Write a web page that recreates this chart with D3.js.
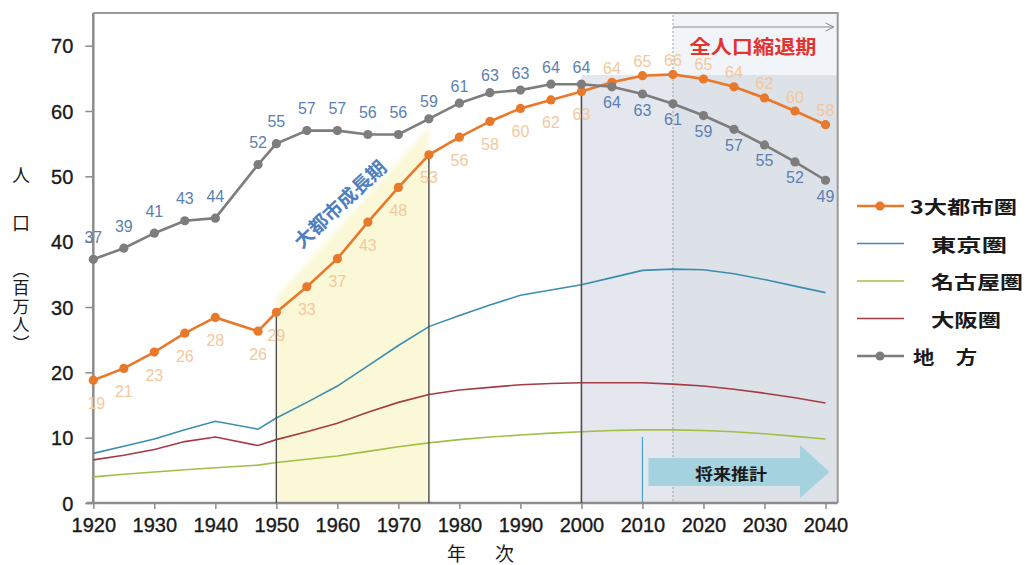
<!DOCTYPE html>
<html>
<head>
<meta charset="utf-8">
<script src="https://cdn.jsdelivr.net/npm/d3@7"></script>
<style>
  html, body { margin: 0; padding: 0; background: #fff; }
  svg { display: block; }
  .tick-label { font-family: "Liberation Sans", Arial, sans-serif; font-size: 20px; fill: #1a1a1a; stroke: #1a1a1a; stroke-width: 0.35px; }
  .jp { font-family: "Noto Sans CJK JP", "Noto Sans", sans-serif; }
  .vert { writing-mode: vertical-rl; }
  .val { font-family: "Liberation Sans", Arial, sans-serif; font-size: 16px; }
</style>
</head>
<body>
<svg id="chart" width="1026" height="565"></svg>
<script>
// Population by region, millions
const years = [1920, 1925, 1930, 1935, 1940, 1947, 1950, 1955, 1960, 1965, 1970, 1975, 1980,
               1985, 1990, 1995, 2000, 2005, 2010, 2015, 2020, 2025, 2030, 2035, 2040];
const metro3 = [18.8, 20.6, 23.1, 26.0, 28.4, 26.3, 29.2, 33.1, 37.4, 43.0, 48.3, 53.3, 56.0,
                58.4, 60.4, 61.7, 63.0, 64.4, 65.4, 65.6, 64.9, 63.7, 62.0, 60.0, 57.9];
const tokyo = [7.6, 8.7, 9.8, 11.2, 12.5, 11.3, 13.0, 15.4, 17.9, 21.0, 24.1, 27.0, 28.7,
               30.3, 31.8, 32.6, 33.4, 34.5, 35.6, 35.8, 35.7, 35.1, 34.2, 33.2, 32.2];
const nagoya = [4.0, 4.4, 4.75, 5.1, 5.4, 5.8, 6.2, 6.7, 7.2, 7.9, 8.6, 9.2, 9.7,
                10.1, 10.4, 10.7, 10.9, 11.1, 11.2, 11.2, 11.1, 10.9, 10.6, 10.2, 9.8];
const osaka = [6.6, 7.3, 8.2, 9.4, 10.1, 8.8, 9.7, 10.9, 12.2, 13.9, 15.4, 16.6, 17.3,
               17.7, 18.1, 18.3, 18.4, 18.4, 18.4, 18.2, 17.9, 17.4, 16.8, 16.1, 15.3];
const regional = [37.3, 39.0, 41.3, 43.2, 43.6, 51.8, 55.0, 57.0, 57.0, 56.4, 56.4, 58.8, 61.2,
                  62.8, 63.2, 64.1, 64.1, 63.7, 62.6, 61.1, 59.3, 57.2, 54.8, 52.2, 49.4];

const xTicks = [1920, 1930, 1940, 1950, 1960, 1970, 1980, 1990, 2000, 2010, 2020, 2030, 2040];
const yTicks = [0, 10, 20, 30, 40, 50, 60, 70];

const legendNames = ["3大都市圏", "東京圏", "名古屋圏", "大阪圏", "地\u3000方"];

// Period markers
const growthStart = 1950, growthEnd = 1975;
const baseYear = 2000, projectionYear = 2010, peakYear = 2015;
const growthBand = [31.5, 57.5];   // top edge of the growth band at its two ends
const shadeTop = 65.5;

const svg = d3.select("#chart");
const x = d3.scaleLinear().domain([1920, 2042]).range([93.3, 837.7]);
const y = d3.scaleLinear().domain([0, 75]).range([503, 13]);
const X0 = x.range()[0], X1 = x.range()[1], Y0 = y.range()[0], Y1 = y.range()[1];

const defs = svg.append("defs");
defs.append("filter").attr("id", "soft").attr("x", "-20%").attr("y", "-20%").attr("width", "140%").attr("height", "140%")
  .append("feGaussianBlur").attr("stdDeviation", 2.5);
defs.append("marker").attr("id", "openhead").attr("viewBox", "0 0 10 10").attr("refX", 9).attr("refY", 5)
  .attr("markerWidth", 10).attr("markerHeight", 10).attr("markerUnits", "userSpaceOnUse").attr("orient", "auto")
  .append("path").attr("d", "M1,1 L9,5 L1,9").attr("fill", "none").attr("stroke", "#8a8a8a").attr("stroke-width", 1);

// Shrinking-population period backgrounds
svg.append("rect").attr("x", x(peakYear)).attr("y", Y1).attr("width", X1 - x(peakYear)).attr("height", y(shadeTop) - Y1)
  .attr("fill", "#f1f4f8");
svg.append("rect").attr("x", x(baseYear)).attr("y", y(shadeTop)).attr("width", x(peakYear) - x(baseYear)).attr("height", Y0 - y(shadeTop))
  .attr("fill", "#e4e7ed");
svg.append("rect").attr("x", x(peakYear)).attr("y", y(shadeTop)).attr("width", X1 - x(peakYear)).attr("height", Y0 - y(shadeTop))
  .attr("fill", "#dde1e8");

// Metropolitan growth band
svg.append("path")
  .attr("d", d3.line()([[x(growthStart), Y0], [x(growthStart), y(growthBand[0])], [x(growthEnd), y(growthBand[1])], [x(growthEnd), Y0]]) + "Z")
  .attr("fill", "#fbf8d8").attr("filter", "url(#soft)");

// Peak marker and arrow
svg.append("line").attr("x1", x(peakYear)).attr("x2", x(peakYear)).attr("y1", Y1 + 2).attr("y2", Y0)
  .attr("stroke", "#a0a4aa").attr("stroke-width", 1).attr("stroke-dasharray", "2,2");
svg.append("line").attr("x1", x(peakYear)).attr("x2", X1 - 4).attr("y1", 27).attr("y2", 27)
  .attr("stroke", "#8a8a8a").attr("stroke-width", 1).attr("marker-end", "url(#openhead)");
svg.append("text").attr("class", "jp").attr("x", 753).attr("y", 45).attr("text-anchor", "middle").attr("dominant-baseline", "central")
  .attr("font-size", 19).attr("font-weight", 700).attr("fill", "#e2332c")
  .attr("textLength", 127).attr("lengthAdjust", "spacingAndGlyphs").text("全人口縮退期");

// Projection arrow
const arrowY = 472;
svg.append("path")
  .attr("d", `M${x(projectionYear) + 6},${arrowY - 14} L800,${arrowY - 14} L800,${arrowY - 27} L${x(2040) + 4},${arrowY} L800,${arrowY + 26} L800,${arrowY + 14} L${x(projectionYear) + 6},${arrowY + 14} Z`)
  .attr("fill", "#a5d2df");
svg.append("text").attr("class", "jp").attr("x", 731).attr("y", arrowY + 1).attr("text-anchor", "middle").attr("dominant-baseline", "central")
  .attr("font-size", 16).attr("font-weight", 700).attr("fill", "#1a1a1a")
  .attr("textLength", 72).attr("lengthAdjust", "spacingAndGlyphs").text("将来推計");
svg.append("line").attr("x1", x(projectionYear)).attr("x2", x(projectionYear)).attr("y1", 437).attr("y2", Y0)
  .attr("stroke", "#4aa3cf").attr("stroke-width", 1.2);

// Frame and axes
svg.append("path").attr("d", `M${X0},${Y1} L${X1},${Y1} L${X1},${Y0}`).attr("fill", "none").attr("stroke", "#9a9a9a").attr("stroke-width", 2);

const yAxis = svg.append("g").attr("transform", `translate(${X0},0)`)
  .call(d3.axisLeft(y).tickValues(yTicks).tickSize(8).tickPadding(12));
const xAxis = svg.append("g").attr("transform", `translate(0,${Y0})`)
  .call(d3.axisBottom(x).tickValues(xTicks).tickFormat(d3.format("d")).tickSize(6).tickPadding(4));
[yAxis, xAxis].forEach(g => {
  g.select(".domain").attr("stroke", "#8c8c8c").attr("stroke-width", 2.5);
  g.selectAll(".tick line").attr("stroke", "#8c8c8c").attr("stroke-width", 1.5);
  g.selectAll(".tick text").attr("class", "tick-label").attr("font-size", null).attr("font-family", null).attr("fill", null);
});
yAxis.selectAll(".tick text").attr("dy", "0.36em");
xAxis.selectAll(".tick text").attr("dy", "0.95em");
yAxis.select(".domain").attr("d", `M0,${Y0}V${Y1}`);
xAxis.select(".domain").attr("d", `M${X0 - 7},0H${X1}`);

// Axis titles: vertical Japanese writing
svg.append("text").attr("class", "jp vert").attr("x", 21).attr("y", 166)
  .attr("font-size", 18).attr("letter-spacing", 6).attr("fill", "#1a1a1a").text("人\u3000口");
svg.append("text").attr("class", "jp vert").attr("x", 21).attr("y", 261)
  .attr("font-size", 17).attr("letter-spacing", 1.5).attr("fill", "#1a1a1a").text("（百万人）");
svg.append("text").attr("class", "jp").attr("x", 483).attr("y", 552).attr("text-anchor", "middle").attr("dominant-baseline", "central")
  .attr("font-size", 19).attr("fill", "#1a1a1a").attr("letter-spacing", 5).text("年\u3000次");

// Component series
const line = d3.line().x((d, i) => x(years[i])).y(d => y(d));
const series = [
  { v: tokyo, c: "#3b8db0", w: 1.6 },
  { v: nagoya, c: "#a0bf45", w: 1.6 },
  { v: osaka, c: "#a53b44", w: 1.6 }
];
series.forEach(s => svg.append("path").attr("d", line(s.v)).attr("fill", "none").attr("stroke", s.c).attr("stroke-width", s.w));

// Period boundary lines
const idx = yr => years.indexOf(yr);
svg.append("line").attr("x1", x(growthStart)).attr("x2", x(growthStart)).attr("y1", y(metro3[idx(growthStart)])).attr("y2", Y0)
  .attr("stroke", "#4d4d4d").attr("stroke-width", 1.4);
svg.append("line").attr("x1", x(growthEnd)).attr("x2", x(growthEnd)).attr("y1", y(metro3[idx(growthEnd)])).attr("y2", Y0)
  .attr("stroke", "#4d4d4d").attr("stroke-width", 1.4);
svg.append("line").attr("x1", x(baseYear)).attr("x2", x(baseYear)).attr("y1", y(regional[idx(baseYear)])).attr("y2", Y0)
  .attr("stroke", "#4d4d4d").attr("stroke-width", 1.6);

// Growth period caption
svg.append("text").attr("class", "jp").attr("transform", "translate(339,203) rotate(-43)")
  .attr("text-anchor", "middle").attr("dominant-baseline", "central")
  .attr("font-size", 19).attr("font-weight", 700).attr("fill", "#4f7fbf")
  .attr("textLength", 118).attr("lengthAdjust", "spacingAndGlyphs").text("大都市成長期");

// Main series with markers
const main = [
  { v: metro3, c: "#e8782a", lc: "#f3c89c", above: yr => yr > baseYear },
  { v: regional, c: "#7d7d7d", lc: "#5b7fb3", above: yr => yr <= baseYear }
];
main.forEach(s => {
  svg.append("path").attr("d", line(s.v)).attr("fill", "none").attr("stroke", s.c).attr("stroke-width", 2.6);
  svg.append("g").selectAll("circle").data(s.v).join("circle")
    .attr("cx", (d, i) => x(years[i])).attr("cy", d => y(d)).attr("r", 4.6).attr("fill", s.c);
});
main.forEach((s, k) => {
  svg.append("g").selectAll("text").data(s.v).join("text")
    .attr("class", "val").attr("fill", s.lc).attr("text-anchor", "middle").attr("dominant-baseline", "central")
    .attr("x", (d, i) => x(years[i]) + (k === 0 && i === 0 ? 3 : 0))
    .attr("y", (d, i) => {
      const up = s.above(years[i]);
      if (k === 0) return y(d) + (up ? -14 : 23);
      return y(d) + (up ? (years[i] < 1975 ? -22 : -17) : 16);
    })
    .text(d => d3.format(".0f")(d));
});

// Legend
const legendColors = ["#e8782a", "#3b8db0", "#a0bf45", "#a53b44", "#7d7d7d"];
const legendDots = [true, false, false, false, true];
const legendTextX = [910, 931, 931, 931, 913];
const legendWidths = [107, 76, 92, 70, 64];
const lg = svg.append("g").selectAll("g").data(legendNames).join("g")
  .attr("transform", (d, i) => `translate(0,${206 + i * 37.5})`);
lg.append("line").attr("x1", 857).attr("x2", 904).attr("y1", 0).attr("y2", 0)
  .attr("stroke", (d, i) => legendColors[i]).attr("stroke-width", (d, i) => legendDots[i] ? 2.6 : 1.6);
lg.filter((d, i) => legendDots[i]).append("circle").attr("cx", 880).attr("cy", 0).attr("r", 4.6)
  .attr("fill", d => legendColors[legendNames.indexOf(d)]);
lg.append("text").attr("class", "jp").attr("x", (d, i) => legendTextX[i]).attr("y", 0).attr("dominant-baseline", "central")
  .attr("font-size", 18).attr("font-weight", 700).attr("fill", "#1a1a1a")
  .attr("textLength", (d, i) => legendWidths[i]).attr("lengthAdjust", "spacingAndGlyphs").text(d => d);
</script>
</body>
</html>
